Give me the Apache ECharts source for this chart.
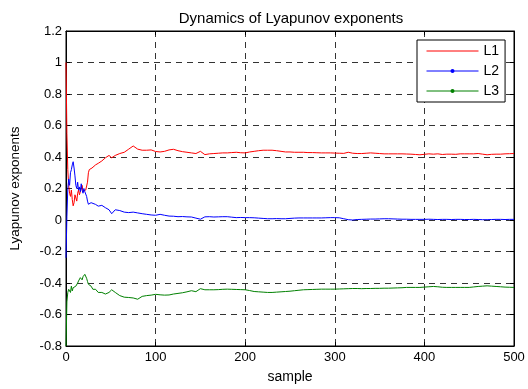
<!DOCTYPE html>
<html>
<head>
<meta charset="utf-8">
<script src="https://cdn.jsdelivr.net/npm/echarts@6/dist/echarts.min.js"></script>
<style>
  html, body { margin: 0; padding: 0; background: #fff; }
  #chart { width: 528px; height: 389px; }
</style>
</head>
<body>
<div id="chart"></div>
<script>
// Sample indices at which the exponent estimates are recorded
var samples = [
  0, 1, 2, 3, 4, 5, 6, 7, 8, 9, 10, 11, 12, 13, 14, 15, 16, 17, 18, 19, 20,
  21, 22, 23, 24, 25, 26, 27, 28, 29, 30, 33, 36, 40, 44, 48, 51, 55,
  60, 65, 70, 75, 80, 85, 90, 95, 100, 105, 110, 115, 120, 125, 130, 135, 140, 145,
  150, 155, 160, 165, 170, 175, 180, 185, 190, 195, 200, 205, 210, 215, 220, 225,
  230, 235, 240, 245, 250, 255, 260, 265, 270, 275, 280, 285, 290, 295, 300, 305,
  310, 315, 320, 325, 330, 335, 340, 345, 350, 355, 360, 365, 370, 375, 380, 385,
  390, 395, 400, 405, 410, 415, 420, 425, 430, 435, 440, 445, 450, 455, 460, 465,
  470, 475, 480, 485, 490, 495, 500
];

// First exponent
var L1 = [
  1.00, 0.55, 0.32, 0.22, 0.17, 0.15, 0.19, 0.13, 0.09, 0.11, 0.16,
  0.14, 0.12, 0.17, 0.19, 0.16, 0.15, 0.20, 0.22, 0.18, 0.19,
  0.17, 0.19, 0.20, 0.24, 0.30, 0.32, 0.31, 0.33, 0.33, 0.34, 0.35, 0.36, 0.375, 0.395, 0.41, 0.395, 0.41,
  0.422, 0.43, 0.45, 0.47, 0.45, 0.443, 0.443, 0.445, 0.435, 0.432, 0.436, 0.445, 0.449, 0.44, 0.434, 0.43, 0.426, 0.422,
  0.436, 0.415, 0.42, 0.422, 0.424, 0.426, 0.426, 0.428, 0.43, 0.427, 0.426, 0.432, 0.436, 0.44, 0.443, 0.443,
  0.443, 0.44, 0.436, 0.432, 0.432, 0.43, 0.43, 0.43, 0.428, 0.428, 0.427, 0.426, 0.426, 0.426, 0.425, 0.424,
  0.423, 0.43, 0.424, 0.422, 0.422, 0.424, 0.426, 0.424, 0.422, 0.42, 0.42, 0.42, 0.42, 0.42, 0.419, 0.418,
  0.416, 0.414, 0.417, 0.42, 0.418, 0.42, 0.416, 0.418, 0.418, 0.417, 0.42, 0.42, 0.42, 0.42, 0.422, 0.418,
  0.414, 0.417, 0.418, 0.418, 0.42, 0.421, 0.422
];

// Second exponent
var L2 = [
  -0.24, 0.02, 0.20, 0.26, 0.22, 0.30, 0.32, 0.35, 0.37, 0.33, 0.28,
  0.22, 0.20, 0.24, 0.19, 0.21, 0.18, 0.23, 0.19, 0.17, 0.20,
  0.18, 0.18, 0.15, 0.12, 0.10, 0.11, 0.10, 0.11, 0.10, 0.10, 0.099, 0.088, 0.093, 0.078, 0.065, 0.04, 0.065,
  0.06, 0.05, 0.047, 0.05, 0.045, 0.04, 0.036, 0.032, 0.03, 0.036, 0.03, 0.025, 0.024, 0.021, 0.022, 0.02, 0.019, 0.012,
  0.005, 0.02, 0.021, 0.019, 0.02, 0.021, 0.021, 0.018, 0.015, 0.016, 0.015, 0.015, 0.014, 0.012, 0.01, 0.008,
  0.008, 0.009, 0.008, 0.008, 0.01, 0.012, 0.013, 0.013, 0.013, 0.013, 0.013, 0.013, 0.014, 0.015, 0.015, 0.014,
  0.008, 0.002, 0.0, 0.003, 0.004, 0.005, 0.006, 0.006, 0.007, 0.008, 0.008, 0.007, 0.006, 0.005, 0.005, 0.004,
  0.004, 0.004, 0.004, 0.005, 0.004, 0.003, 0.004, 0.004, 0.003, 0.004, 0.004, 0.003, 0.003, 0.004, 0.003, 0.002,
  0.002, 0.003, 0.004, 0.004, 0.003, 0.004, 0.004
];

// Third exponent
var L3 = [
  -0.80, -0.52, -0.46, -0.44, -0.43, -0.46, -0.42, -0.45, -0.43, -0.44, -0.44,
  -0.42, -0.41, -0.40, -0.387, -0.38, -0.366, -0.37, -0.38, -0.36, -0.355,
  -0.345, -0.334, -0.37, -0.39, -0.408, -0.40, -0.397, -0.42, -0.43, -0.44, -0.44, -0.46, -0.46, -0.47, -0.46, -0.443, -0.46,
  -0.48, -0.49, -0.492, -0.495, -0.503, -0.485, -0.48, -0.477, -0.472, -0.475, -0.477, -0.476, -0.47, -0.466, -0.462, -0.456, -0.449, -0.455,
  -0.436, -0.443, -0.443, -0.443, -0.442, -0.44, -0.439, -0.44, -0.441, -0.442, -0.443, -0.448, -0.454, -0.456, -0.458, -0.46,
  -0.46, -0.458, -0.456, -0.454, -0.452, -0.449, -0.446, -0.443, -0.442, -0.441, -0.44, -0.439, -0.439, -0.439, -0.439, -0.438,
  -0.437, -0.436, -0.435, -0.435, -0.436, -0.435, -0.435, -0.434, -0.434, -0.433, -0.433, -0.432, -0.431, -0.43, -0.428, -0.428,
  -0.428, -0.428, -0.426, -0.424, -0.422, -0.424, -0.427, -0.428, -0.428, -0.428, -0.428, -0.428, -0.428, -0.425, -0.422, -0.42,
  -0.418, -0.42, -0.422, -0.424, -0.426, -0.427, -0.428
];

var xTicks = [0, 100, 200, 300, 400, 500];
var yTicks = [-0.8, -0.6, -0.4, -0.2, 0, 0.2, 0.4, 0.6, 0.8, 1, 1.2];

function pairs(ys) {
  return samples.map(function (x, i) { return [x, ys[i]]; });
}

var FONT = 'Liberation Sans, Arial, sans-serif';
var gridDash = { color: '#333', width: 1, type: [6, 5] };

var chart = echarts.init(document.getElementById('chart'), null, { renderer: 'canvas' });

chart.setOption({
  animation: false,
  backgroundColor: '#fff',
  title: {
    text: 'Dynamics of Lyapunov exponents',
    left: 286,
    textAlign: 'center',
    top: 6,
    textStyle: { fontFamily: FONT, fontSize: 15, fontWeight: 'normal', color: '#000' }
  },
  grid: {
    left: 66, right: 14, top: 31, bottom: 41,
    show: true, borderColor: '#000', borderWidth: 1, backgroundColor: '#fff'
  },
  legend: {
    orient: 'vertical',
    left: 417,
    top: 40,
    padding: [4, 6, 4, 9],
    itemWidth: 52,
    itemHeight: 5,
    itemGap: 6,
    backgroundColor: '#fff',
    borderColor: '#000',
    borderWidth: 1,
    borderRadius: 0,
    lineStyle: { width: 1 },
    textStyle: { fontFamily: FONT, fontSize: 14, color: '#000', lineHeight: 14 },
    data: [
      { name: 'L1', itemStyle: { opacity: 0 } },
      { name: 'L2' },
      { name: 'L3' }
    ]
  },
  xAxis: [{
    type: 'value',
    min: xTicks[0], max: xTicks[xTicks.length - 1], interval: 100,
    name: 'sample',
    nameLocation: 'middle',
    nameGap: 24,
    nameTextStyle: { fontFamily: FONT, fontSize: 14, color: '#000' },
    axisLine: { show: true, onZero: false, lineStyle: { color: '#000', width: 1 } },
    axisTick: { show: true, inside: true, length: 4, lineStyle: { color: '#000' } },
    axisLabel: { margin: 5, fontFamily: FONT, fontSize: 13, color: '#000' },
    splitLine: { show: true, lineStyle: gridDash }
  }, {
    type: 'value', position: 'top',
    min: xTicks[0], max: xTicks[xTicks.length - 1], interval: 100,
    axisLine: { show: true, onZero: false, lineStyle: { color: '#000' } },
    axisTick: { show: true, inside: true, length: 4, lineStyle: { color: '#000' } },
    axisLabel: { show: false },
    splitLine: { show: false }
  }],
  yAxis: [{
    type: 'value',
    min: yTicks[0], max: yTicks[yTicks.length - 1], interval: 0.2,
    name: 'Lyapunov exponents',
    nameLocation: 'middle',
    nameGap: 44,
    nameTextStyle: { fontFamily: FONT, fontSize: 13.5, color: '#000' },
    axisLine: { show: true, onZero: false, lineStyle: { color: '#000', width: 1 } },
    axisTick: { show: true, inside: true, length: 4, lineStyle: { color: '#000' } },
    axisLabel: {
      margin: 4, fontFamily: FONT, fontSize: 13, color: '#000',
      formatter: function (v) { return String(Math.round(v * 10) / 10); }
    },
    splitLine: { show: true, lineStyle: gridDash }
  }, {
    type: 'value', position: 'right',
    min: yTicks[0], max: yTicks[yTicks.length - 1], interval: 0.2,
    axisLine: { show: true, onZero: false, lineStyle: { color: '#000' } },
    axisTick: { show: true, inside: true, length: 4, lineStyle: { color: '#000' } },
    axisLabel: { show: false },
    splitLine: { show: false }
  }],
  series: [{
    name: 'L1', type: 'line', data: pairs(L1),
    symbol: 'none',
    lineStyle: { color: '#ff0000', width: 1 },
    itemStyle: { color: '#ff0000' }
  }, {
    name: 'L2', type: 'line', data: pairs(L2),
    symbol: 'circle', symbolSize: 5, showSymbol: false,
    lineStyle: { color: '#0000ff', width: 1 },
    itemStyle: { color: '#0000ff' }
  }, {
    name: 'L3', type: 'line', data: pairs(L3),
    symbol: 'circle', symbolSize: 5, showSymbol: false,
    lineStyle: { color: '#008000', width: 1 },
    itemStyle: { color: '#008000' }
  }]
});
</script>
</body>
</html>
